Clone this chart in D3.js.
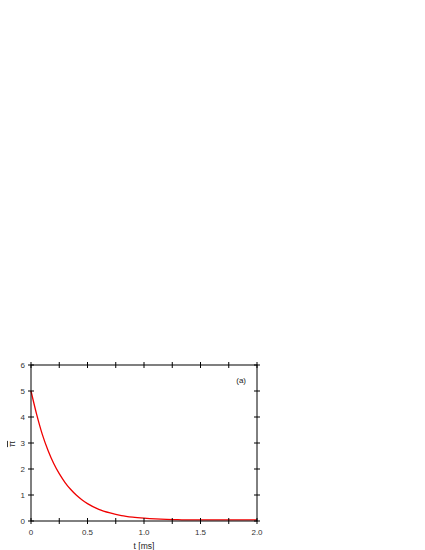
<!DOCTYPE html>
<html>
<head>
<meta charset="utf-8">
<script src="https://cdn.jsdelivr.net/npm/d3@7"></script>
<style>
body { margin: 0; background: #fff; }
text { font-family: "Liberation Sans", Arial, sans-serif; }
</style>
</head>
<body>
<svg id="chart"></svg>
<script>
var screen = {width: 425, height: 550};
var margins = {top: 365, right: 168, bottom: 29, left: 31};

// curve
var times = [0, 0.05, 0.1, 0.15, 0.2, 0.25, 0.3, 0.35, 0.4, 0.45, 0.5, 0.6, 0.7, 0.8, 0.9, 1.0, 1.1, 1.2, 1.3, 1.4, 1.6, 1.8, 2.0];
var piBar = [5.0, 4.1, 3.33, 2.72, 2.22, 1.82, 1.49, 1.22, 1.0, 0.82, 0.67, 0.45, 0.31, 0.21, 0.15, 0.11, 0.08, 0.06, 0.05, 0.04, 0.04, 0.04, 0.04];

var xTicks = [0, 0.5, 1.0, 1.5, 2.0];
var xMinor = [0.25, 0.75, 1.25, 1.75];
var yTicks = [0, 1, 2, 3, 4, 5, 6];

var svg = d3.select("#chart")
    .attr("width", screen.width)
    .attr("height", screen.height)

var width = screen.width - margins.left - margins.right;
var height = screen.height - margins.top - margins.bottom;

var xScale = d3.scaleLinear().domain([0, 2]).range([0, width])
var yScale = d3.scaleLinear().domain([0, 6]).range([height, 0])

var g = svg.append("g")
    .attr("transform", "translate(" + margins.left + "," + margins.top + ")")

// the curve
g.append("path")
    .datum(times)
    .attr("fill", "none")
    .attr("stroke", "#f00000")
    .attr("stroke-width", 1.3)
    .attr("d", d3.line()
        .curve(d3.curveMonotoneX)
        .x(function(d) { return xScale(d) })
        .y(function(d, i) { return yScale(piBar[i]) }))

// frame
g.append("rect")
    .attr("width", width)
    .attr("height", height)
    .attr("fill", "none")
    .attr("stroke", "#000")
    .attr("stroke-width", 1)

var tick = 3;
var allX = xTicks.concat(xMinor);

// ticks on bottom and top
allX.forEach(function(v) {
    [0, height].forEach(function(y0) {
        g.append("line")
            .attr("x1", xScale(v)).attr("x2", xScale(v))
            .attr("y1", y0 - tick).attr("y2", y0 + tick)
            .attr("stroke", "#000")
    })
})
// ticks on left and right
yTicks.forEach(function(v) {
    [0, width].forEach(function(x0) {
        g.append("line")
            .attr("x1", x0 - tick).attr("x2", x0 + tick)
            .attr("y1", yScale(v)).attr("y2", yScale(v))
            .attr("stroke", "#000")
    })
})

// tick labels
g.selectAll(".xlab")
    .data(xTicks)
    .enter()
    .append("text")
    .attr("x", function(d) { return xScale(d) })
    .attr("y", height + 14)
    .attr("text-anchor", "middle")
    .style("font-size", "8px")
    .style("fill", "#333")
    .text(function(d) { return d === 0 ? "0" : d.toFixed(1) })

g.selectAll(".ylab")
    .data(yTicks)
    .enter()
    .append("text")
    .attr("x", -6)
    .attr("y", function(d) { return yScale(d) + 3 })
    .attr("text-anchor", "end")
    .style("font-size", "8px")
    .style("fill", "#333")
    .text(function(d) { return d })

// axis titles
g.append("text")
    .attr("x", width / 2)
    .attr("y", height + 28)
    .attr("text-anchor", "middle")
    .style("font-size", "8.5px")
    .style("fill", "#222")
    .text("t [ms]")

// rotated pi-bar label
g.append("text")
    .attr("transform", "translate(-16," + (height / 2 + 1) + ") rotate(-90)")
    .attr("text-anchor", "middle")
    .style("font-size", "9px")
    .style("fill", "#222")
    .style("text-decoration", "overline")
    .text("\u03C0")

g.append("text")
    .attr("x", width - 11)
    .attr("y", 18)
    .attr("text-anchor", "end")
    .style("font-size", "8px")
    .style("fill", "#222")
    .text("(a)")
</script>
</body>
</html>
